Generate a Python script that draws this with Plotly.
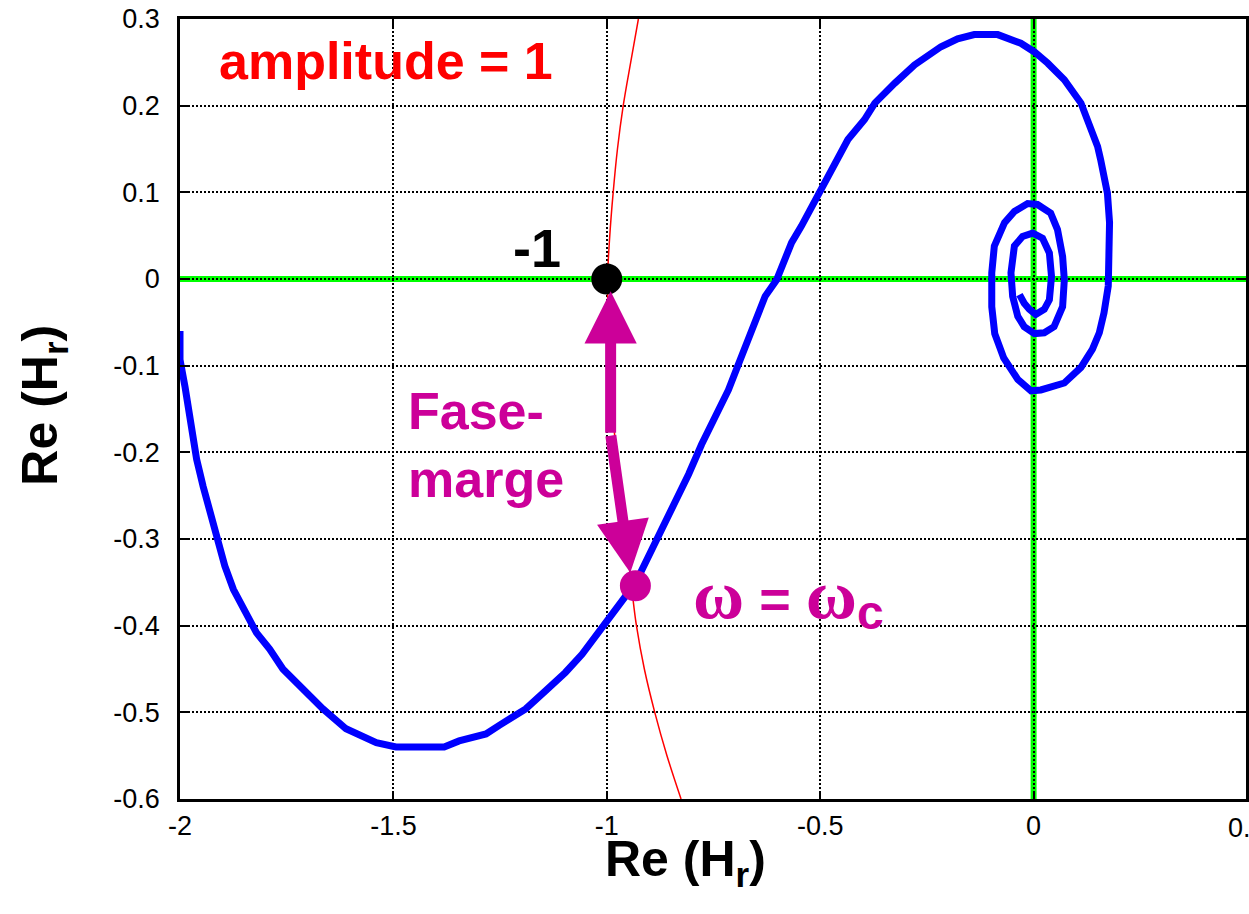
import plotly.graph_objects as go

# Nyquist curve of the open loop
nyq_re = [-2.000, -2.000, -1.988, -1.981, -1.973, -1.961, -1.946, -1.930, -1.914, -1.895,
          -1.875, -1.848, -1.821, -1.790, -1.759, -1.712, -1.665, -1.611, -1.540, -1.494,
          -1.381, -1.346, -1.283, -1.252, -1.190, -1.143, -1.097, -1.058, -1.019, -0.988,
          -0.956, -0.925, -0.894, -0.863, -0.836, -0.808, -0.778, -0.748, -0.715, -0.692,
          -0.668, -0.653, -0.629, -0.602, -0.582, -0.567, -0.544, -0.524, -0.497, -0.466,
          -0.435, -0.396, -0.372, -0.325, -0.279, -0.217, -0.178, -0.139, -0.084, -0.030,
          0.002, 0.033, 0.072, 0.111, 0.134, 0.150, 0.157, 0.165, 0.173, 0.178,
          0.178, 0.175, 0.165, 0.154, 0.138, 0.111, 0.072, 0.017, -0.006, -0.037,
          -0.070, -0.091, -0.098, -0.098, -0.092, -0.068, -0.045, -0.014, 0.009, 0.040,
          0.056, 0.068, 0.072, 0.068, 0.048, 0.025, 0.002, -0.022, -0.037, -0.049,
          -0.053, -0.045, -0.026, -0.002, 0.021, 0.037, 0.042, 0.037, 0.025, 0.005,
          -0.010, -0.022, -0.033]
nyq_im = [-0.060, -0.093, -0.125, -0.147, -0.177, -0.208, -0.239, -0.269, -0.300, -0.331,
          -0.358, -0.381, -0.408, -0.427, -0.450, -0.473, -0.496, -0.519, -0.535, -0.540,
          -0.540, -0.533, -0.525, -0.515, -0.496, -0.475, -0.454, -0.433, -0.408, -0.385,
          -0.366, -0.343, -0.312, -0.281, -0.254, -0.225, -0.191, -0.160, -0.128, -0.099,
          -0.070, -0.047, -0.020, -0.001, 0.022, 0.042, 0.061, 0.080, 0.103, 0.134,
          0.161, 0.184, 0.203, 0.226, 0.247, 0.268, 0.277, 0.282, 0.282, 0.272,
          0.262, 0.249, 0.230, 0.203, 0.176, 0.153, 0.138, 0.120, 0.099, 0.065,
          0.026, -0.008, -0.039, -0.062, -0.081, -0.102, -0.120, -0.128, -0.129, -0.116,
          -0.091, -0.063, -0.032, 0.007, 0.038, 0.065, 0.078, 0.087, 0.086, 0.076,
          0.057, 0.026, -0.001, -0.032, -0.055, -0.062, -0.063, -0.055, -0.043, -0.020,
          0.007, 0.038, 0.049, 0.053, 0.047, 0.030, 0.003, -0.024, -0.035, -0.041,
          -0.035, -0.028, -0.018]

# amplitude = 1 contour
circ_re = [-0.926, -0.944, -0.9615, -0.975, -0.985, -0.993, -0.998, -0.993, -0.978,
           -0.955, -0.938, -0.9305, -0.912, -0.8876, -0.859, -0.826]
circ_im = [0.30, 0.25, 0.20, 0.15, 0.10, 0.05, 0.0, -0.10, -0.20,
           -0.30, -0.372, -0.40, -0.45, -0.50, -0.55, -0.60]

critical_pt = (-1.0, 0.0)
crossover_pt = (-0.933, -0.354)
arrow_knee = (-0.991, -0.179)
arrow_top_tip = (-0.991, -0.014)
arrow_bot_tip = (-0.945, -0.339)

x_ticks = [-2, -1.5, -1, -0.5, 0]
x_ticktext = ["-2", "-1.5", "-1", "-0.5", "0"]
y_ticks = [0.3, 0.2, 0.1, 0, -0.1, -0.2, -0.3, -0.4, -0.5, -0.6]
y_ticktext = ["0.3", "0.2", "0.1", "0", "-0.1", "-0.2", "-0.3", "-0.4", "-0.5", "-0.6"]

MAG = "#cc0099"
SANS = "Liberation Sans, Arial, sans-serif"

fig = go.Figure()
fig.add_trace(go.Scatter(x=nyq_re, y=nyq_im, mode="lines",
                         line=dict(color="#0000ff", width=7), hoverinfo="skip"))
fig.add_trace(go.Scatter(x=circ_re, y=circ_im, mode="lines",
                         line=dict(color="#ff0000", width=1.5, shape="spline"), hoverinfo="skip"))
fig.add_trace(go.Scatter(x=[critical_pt[0]], y=[critical_pt[1]], mode="markers",
                         marker=dict(color="black", size=31), hoverinfo="skip"))
fig.add_trace(go.Scatter(x=[crossover_pt[0]], y=[crossover_pt[1]], mode="markers",
                         marker=dict(color=MAG, size=31), hoverinfo="skip"))

# green axes through the origin (below grid)
fig.add_shape(type="line", xref="x", yref="paper", x0=0, x1=0, y0=0, y1=1,
              line=dict(color="#00ff00", width=6), layer="below")
fig.add_shape(type="line", xref="paper", yref="y", x0=0, x1=1, y0=0, y1=0,
              line=dict(color="#00ff00", width=6), layer="below")

annos = []
for tip in (arrow_top_tip, arrow_bot_tip):
    annos.append(dict(x=tip[0], y=tip[1], ax=arrow_knee[0], ay=arrow_knee[1],
                      xref="x", yref="y", axref="x", ayref="y", text="",
                      showarrow=True, arrowhead=2, arrowsize=0.95, arrowwidth=11,
                      arrowcolor=MAG))
annos += [
    dict(x=-1.914, y=0.252, xref="x", yref="y", text="<b>amplitude = 1</b>",
         showarrow=False, xanchor="left", yanchor="middle",
         font=dict(family=SANS, size=52, color="#ff0000")),
    dict(x=-1.164, y=0.036, xref="x", yref="y", text="<b>-1</b>",
         showarrow=False, xanchor="center", yanchor="middle",
         font=dict(family=SANS, size=54, color="black")),
    dict(x=-1.470, y=-0.192, xref="x", yref="y", text="<b>Fase-<br>marge</b>",
         showarrow=False, xanchor="left", yanchor="middle", align="left",
         font=dict(family=SANS, size=52, color=MAG)),
    dict(x=-0.803, y=-0.368, xref="x", yref="y",
         text=("<b><span style='font-family:Liberation Serif;font-size:70px'>ω</span> = "
               "<span style='font-family:Liberation Serif;font-size:70px'>ω</span>"
               "<sub><span style='font-size:48px'>c</span></sub></b>"),
         showarrow=False, xanchor="left", yanchor="middle",
         font=dict(family=SANS, size=54, color=MAG)),
    dict(x=0.4743, y=-0.081, xref="paper", yref="paper",
         text="<b>Re (H<sub>r</sub>)</b>", showarrow=False,
         xanchor="center", yanchor="middle",
         font=dict(family=SANS, size=50, color="black")),
    dict(x=-0.128, y=0.505, xref="paper", yref="paper",
         text="<b>Re (H<sub>r</sub>)</b>", showarrow=False, textangle=-90,
         xanchor="center", yanchor="middle",
         font=dict(family=SANS, size=50, color="black")),
    dict(x=1.0009, y=-0.037, xref="paper", yref="paper", text="0.5",
         showarrow=False, xanchor="center", yanchor="middle",
         font=dict(family=SANS, size=27, color="black")),
]

axis_common = dict(showgrid=True, gridcolor="black", gridwidth=1.5, griddash="2px,2px",
                   zeroline=False, showline=True, linecolor="black", linewidth=2.5,
                   mirror="ticks", ticks="inside", ticklen=8, tickwidth=2,
                   tickcolor="black", tickfont=dict(family=SANS, size=27, color="black"))

fig.update_layout(
    width=1249, height=914,
    margin=dict(l=180, r=0, t=19, b=115),
    paper_bgcolor="white", plot_bgcolor="white",
    showlegend=False,
    xaxis=dict(range=[-2, 0.4977], tickvals=x_ticks, ticktext=x_ticktext,
               ticklabelstandoff=1, **axis_common),
    yaxis=dict(range=[-0.6, 0.3], tickvals=y_ticks, ticktext=y_ticktext,
               ticklabelstandoff=12, **axis_common),
    annotations=annos,
)

fig.write_html("out.html")
